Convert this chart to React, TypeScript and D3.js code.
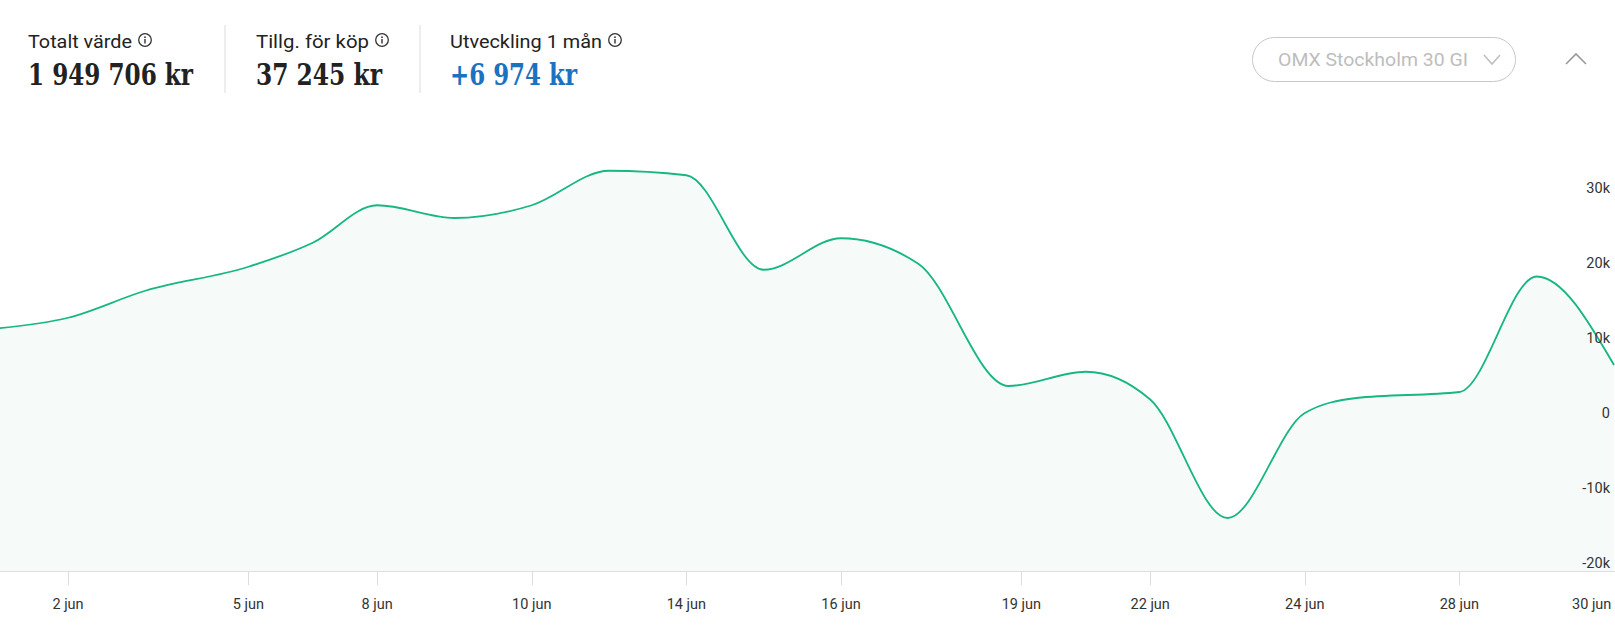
import { useEffect, useRef } from "react";
import * as d3 from "d3";

const W = 1615;
const H = 627;

// header figures
const statLabels = ["Totalt värde", "Tillg. för köp", "Utveckling 1 mån"];
const statValues = ["1 949 706 kr", "37 245 kr", "+6 974 kr"];
const statColors = ["#222222", "#222222", "#1b72c0"];

// positions on the (ordinal) time axis and portfolio change in kr
const pointIdx = [-3, 0, 3, 7, 9.5, 12, 15, 18, 21, 24, 27, 30, 33, 36.5, 39.5, 42, 45, 48, 50, 54, 57, 60];
const pointVal = [
  11200, 12700, 16300, 19500, 22700, 27700, 26000, 27700, 32300, 31700, 19100,
  23300, 19900, 3600, 5500, 1800, -14000, 0, 2000, 2800, 18200, 6400,
];

// x axis labels
const tickIdx = [0, 7, 12, 18, 24, 30, 37, 42, 48, 54, 60];
const tickLabels = ["2 jun", "5 jun", "8 jun", "10 jun", "14 jun", "16 jun", "19 jun", "22 jun", "24 jun", "28 jun", "30 jun"];

// y axis
const yTicks = [-20000, -10000, 0, 10000, 20000, 30000];

export default function App() {
  const svgRef = useRef<SVGSVGElement>(null);

  useEffect(() => {
    if (!svgRef.current) return;
    const svg = d3.select(svgRef.current);
    svg.selectAll("*").remove();

    const font = "Roboto, 'Noto Sans', sans-serif";
    const slab = "'Roboto Slab', 'DejaVu Serif Condensed', 'DejaVu Serif', serif";

    // ---- header ----
    const colX = [28, 256, 450];
    const labelW = [104, 113, 152];
    const valueW = [165, 126, 127];
    const hdr = svg.append("g");
    statLabels.forEach((lab, i) => {
      hdr
        .append("text")
        .attr("x", colX[i])
        .attr("y", 48)
        .attr("font-family", font)
        .attr("font-size", 18)
        .attr("fill", "#222")
        .attr("textLength", labelW[i])
        .attr("lengthAdjust", "spacingAndGlyphs")
        .text(lab);
      // info icon
      const cx = colX[i] + labelW[i] + 13;
      const ic = hdr.append("g").attr("transform", `translate(${cx},40)`);
      ic.append("circle").attr("r", 6.3).attr("fill", "none").attr("stroke", "#333").attr("stroke-width", 1.3);
      ic.append("circle").attr("cy", -2.8).attr("r", 0.9).attr("fill", "#333");
      ic.append("line").attr("y1", -1).attr("y2", 3.4).attr("stroke", "#333").attr("stroke-width", 1.4);

      hdr
        .append("text")
        .attr("x", colX[i])
        .attr("y", 85)
        .attr("font-family", slab)
        .attr("font-weight", 700)
        .attr("font-size", 29)
        .attr("fill", statColors[i])
        .attr("textLength", valueW[i])
        .attr("lengthAdjust", "spacingAndGlyphs")
        .text(statValues[i]);
    });
    [225, 420].forEach((x) =>
      hdr.append("line").attr("x1", x).attr("x2", x).attr("y1", 25).attr("y2", 93).attr("stroke", "#e2e2e2").attr("stroke-width", 1.2)
    );

    // dropdown
    hdr
      .append("rect")
      .attr("x", 1252.5)
      .attr("y", 37.5)
      .attr("width", 263)
      .attr("height", 44)
      .attr("rx", 22)
      .attr("fill", "#fff")
      .attr("stroke", "#c8c8c8");
    hdr
      .append("text")
      .attr("x", 1278)
      .attr("y", 66)
      .attr("font-family", font)
      .attr("font-size", 18)
      .attr("fill", "#bdbdbd")
      .attr("textLength", 190)
      .attr("lengthAdjust", "spacingAndGlyphs")
      .text("OMX Stockholm 30 GI");
    hdr
      .append("path")
      .attr("d", "M1484,55 L1492,64 L1500,55")
      .attr("fill", "none")
      .attr("stroke", "#bdbdbd")
      .attr("stroke-width", 1.5);
    hdr
      .append("path")
      .attr("d", "M1566,64 L1576,54 L1586,64")
      .attr("fill", "none")
      .attr("stroke", "#9a9a9a")
      .attr("stroke-width", 1.6);

    // ---- chart ----
    const plotBottom = 571;
    const x = d3.scaleLinear().domain([0, 60]).range([68, 1614]);
    const y = d3.scaleLinear().domain([-20000, 30000]).range([563, 188]);

    const data = pointIdx.map((i, k) => ({ i, v: pointVal[k] }));

    svg
      .append("defs")
      .append("clipPath")
      .attr("id", "plot-clip")
      .append("rect")
      .attr("x", 0)
      .attr("y", 100)
      .attr("width", W)
      .attr("height", plotBottom - 100);

    const g = svg.append("g").attr("clip-path", "url(#plot-clip)");

    const area = d3
      .area<{ i: number; v: number }>()
      .x((d) => x(d.i))
      .y0(plotBottom)
      .y1((d) => y(d.v))
      .curve(d3.curveMonotoneX);
    g.append("path").datum(data).attr("fill", "#f6faf9").attr("d", area);

    const line = d3
      .line<{ i: number; v: number }>()
      .x((d) => x(d.i))
      .y((d) => y(d.v))
      .curve(d3.curveMonotoneX);
    g.append("path")
      .datum(data)
      .attr("fill", "none")
      .attr("stroke", "#17b683")
      .attr("stroke-width", 1.8)
      .attr("d", line);

    // y labels (right side)
    svg
      .append("g")
      .selectAll("text")
      .data(yTicks)
      .join("text")
      .attr("x", 1610)
      .attr("y", (d) => y(d))
      .attr("dy", "0.35em")
      .attr("text-anchor", "end")
      .attr("font-family", font)
      .attr("font-size", 14.5)
      .attr("fill", "#333")
      .text((d) => (d === 0 ? "0" : `${d / 1000}k`));

    // x axis
    const xa = svg.append("g");
    xa.append("line")
      .attr("x1", 0)
      .attr("x2", W)
      .attr("y1", plotBottom + 0.5)
      .attr("y2", plotBottom + 0.5)
      .attr("stroke", "#dedede")
      .attr("stroke-width", 1.2);
    tickIdx.forEach((t, k) => {
      const last = k === tickIdx.length - 1;
      const tx = Math.round(x(t)) + 0.5;
      if (!last) {
        xa.append("line")
          .attr("x1", tx)
          .attr("x2", tx)
          .attr("y1", plotBottom)
          .attr("y2", plotBottom + 14)
          .attr("stroke", "#dcdcdc");
      }
      // the last label is pushed inward so most of it stays visible
      xa.append("text")
        .attr("x", last ? 1572 : x(t))
        .attr("y", 609)
        .attr("text-anchor", last ? "start" : "middle")
        .attr("font-family", font)
        .attr("font-size", 14.5)
        .attr("fill", "#333")
        .text(tickLabels[k]);
    });
  }, []);

  return (
    <svg
      ref={svgRef}
      width={W}
      height={H}
      style={{ position: "fixed", left: 0, top: 0, background: "#fff" }}
    />
  );
}
